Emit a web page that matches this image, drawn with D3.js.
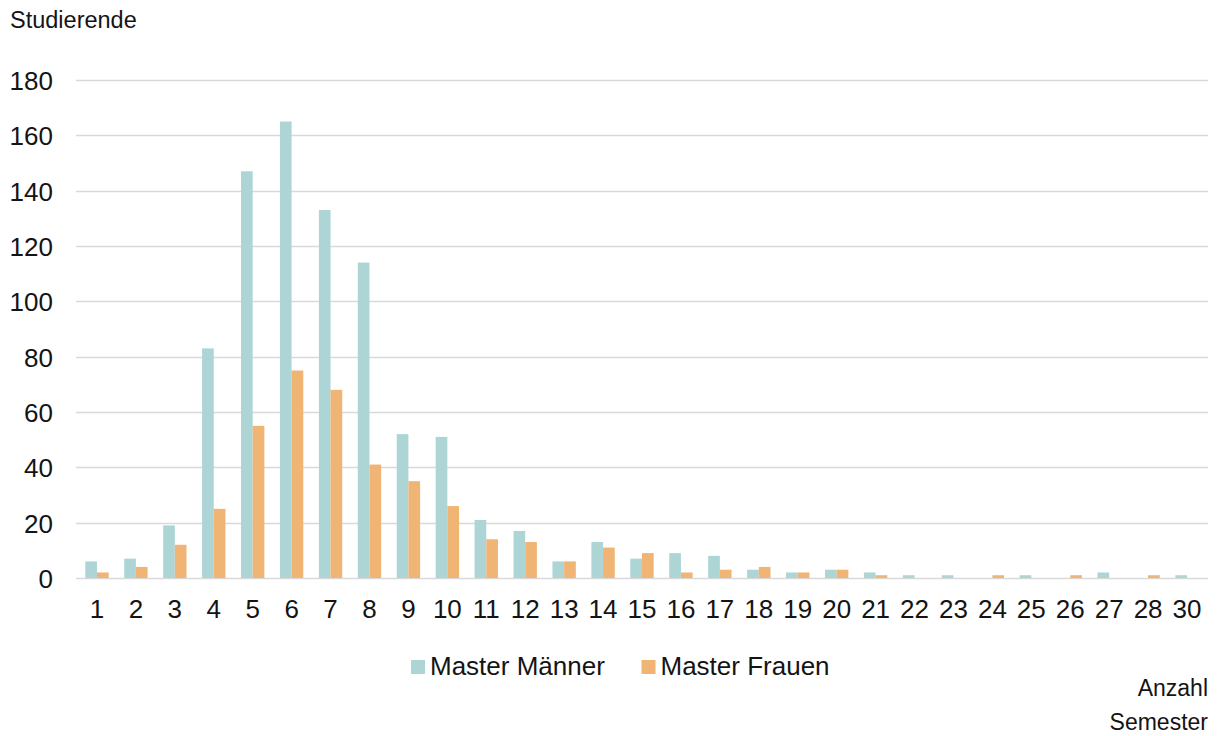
<!DOCTYPE html>
<html>
<head>
<meta charset="utf-8">
<script src="https://cdn.jsdelivr.net/npm/d3@7"></script>
<style>
  html, body { margin: 0; padding: 0; background: #ffffff; }
  svg { display: block; font-family: "Liberation Sans", Arial, sans-serif; }
</style>
</head>
<body>
<svg id="chart" width="1217" height="736"></svg>
<script>
const categories = ["1","2","3","4","5","6","7","8","9","10","11","12","13","14","15","16","17","18","19","20","21","22","23","24","25","26","27","28","30"];
const seriesNames = ["Master Männer", "Master Frauen"];
const masterMaenner = [6,7,19,83,147,165,133,114,52,51,21,17,6,13,7,9,8,3,2,3,2,1,1,0,1,0,2,0,1];
const masterFrauen  = [2,4,12,25,55,75,68,41,35,26,14,13,6,11,9,2,3,4,2,3,1,0,0,1,0,1,0,1,0];
const yTicks = [0,20,40,60,80,100,120,140,160,180];
const colors = ["#aed5d5", "#f0b475"];

const svg = d3.select("#chart");
const plot = { left: 77.5, right: 1206.5, top: 80, bottom: 578 };

const x0 = d3.scaleBand().domain(categories).range([plot.left, plot.right]).paddingInner(0.4).paddingOuter(0.2);
const x1 = d3.scaleBand().domain(seriesNames).range([0, x0.bandwidth()]).padding(0);
const y = d3.scaleLinear().domain([0, 180]).range([plot.bottom, plot.top]);

// gridlines
svg.append("g").selectAll("line").data(yTicks).join("line")
  .attr("x1", 76).attr("x2", 1208)
  .attr("y1", d => Math.round(y(d)) + 0.5).attr("y2", d => Math.round(y(d)) + 0.5)
  .attr("stroke", "#d9d9d9").attr("stroke-width", 1.3);

// y axis labels
const yAxis = d3.axisLeft(y).tickValues(yTicks).tickSize(0).tickPadding(0);
const gy = svg.append("g").attr("transform", "translate(53,0)").call(yAxis);
gy.select(".domain").remove();
gy.selectAll("text").attr("font-size", 26).attr("fill", "#141414").attr("font-family", "Liberation Sans, Arial, sans-serif").attr("dy", "0.36em");

// bars
const data = categories.map((c, i) => ({ cat: c, vals: [masterMaenner[i], masterFrauen[i]] }));
const groups = svg.append("g").selectAll("g").data(data).join("g")
  .attr("transform", d => `translate(${x0(d.cat)},0)`);
groups.selectAll("rect").data(d => d.vals.map((v, j) => ({ name: seriesNames[j], v, j })))
  .join("rect")
  .attr("x", d => x1(d.name))
  .attr("width", x1.bandwidth())
  .attr("y", d => y(d.v))
  .attr("height", d => y(0) - y(d.v))
  .attr("fill", d => colors[d.j]);

// x axis labels
const xAxis = d3.axisBottom(x0).tickSize(0).tickPadding(0);
const gx = svg.append("g").attr("transform", "translate(0,618)").call(xAxis);
gx.select(".domain").remove();
gx.selectAll("text").attr("font-size", 26).attr("fill", "#141414").attr("font-family", "Liberation Sans, Arial, sans-serif").attr("dy", 0).attr("y", 0);

// axis titles
svg.append("text").attr("x", 10).attr("y", 28).attr("font-size", 23.5).attr("fill", "#141414").text("Studierende");
svg.append("text").attr("x", 1208).attr("y", 696).attr("text-anchor", "end").attr("font-size", 23).attr("fill", "#141414").text("Anzahl");
svg.append("text").attr("x", 1208).attr("y", 730).attr("text-anchor", "end").attr("font-size", 23).attr("fill", "#141414").text("Semester");

// legend
const legendX = [411, 641.5];
const leg = svg.append("g").selectAll("g").data(seriesNames).join("g")
  .attr("transform", (d, i) => `translate(${legendX[i]},0)`);
leg.append("rect").attr("x", 0).attr("y", 660).attr("width", 14).attr("height", 14).attr("fill", (d, i) => colors[i]);
leg.append("text").attr("x", 19).attr("y", 675).attr("font-size", 26).attr("fill", "#141414").text(d => d);
</script>
</body>
</html>
